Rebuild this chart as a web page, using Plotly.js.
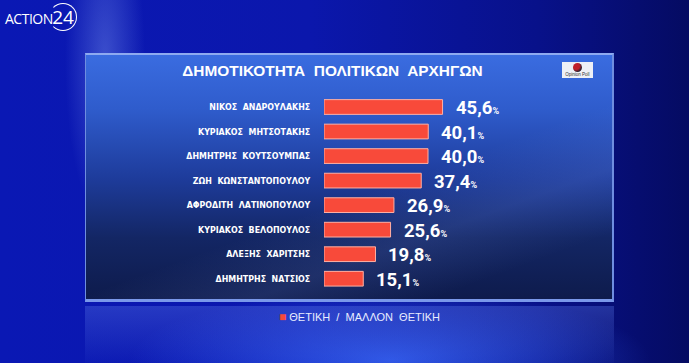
<!DOCTYPE html>
<html><head><meta charset="utf-8">
<script src="https://cdn.plot.ly/plotly-3.0.1.min.js"></script>
<style>
html,body{margin:0;padding:0;width:689px;height:363px;overflow:hidden;background:#0a15a0;}
#bg{position:absolute;left:0;top:0;width:689px;height:363px;
 background:
  radial-gradient(ellipse 260px 70px at 390px 360px, rgba(60,110,255,0.75), rgba(60,110,255,0) 100%),
  radial-gradient(ellipse 40px 160px at 105px 60px, rgba(150,180,255,0.35), rgba(150,180,255,0) 100%),
  linear-gradient(90deg,#0a18b4 0%,#0b17ac 45%,#08118a 78%,#050b62 100%);}
#panel{position:absolute;left:85px;top:53px;width:529px;height:249px;box-sizing:border-box;
 border-top:2px solid #8eaaf0;border-left:1px solid #6f8ee0;border-right:2px solid #6f8ee0;border-bottom:3px solid #7a98ea;
 background:
  linear-gradient(160deg, rgba(255,255,255,0) 55%, rgba(140,170,255,0.12) 70%, rgba(255,255,255,0) 85%),
  linear-gradient(180deg,#3a6ce0 0%,#2f5ccc 22%,#1e3c9c 50%,#132664 75%,#0e1b4c 100%);}
#refl{position:absolute;left:85px;top:306px;width:529px;height:57px;
 background:linear-gradient(180deg,rgba(90,120,230,0.35),rgba(60,90,220,0.05));}
#logo{position:absolute;left:5px;top:3px;color:#fff;font-family:'Open Sans',sans-serif;}
#logo .a{position:absolute;left:0;top:6px;font-size:14px;letter-spacing:-0.5px;}
#logo .n{position:absolute;left:44px;top:0;width:26px;height:26px;border:1.5px solid #fff;border-radius:50%;border-left-color:transparent;font-size:19px;line-height:26px;text-align:center;}
#op{position:absolute;left:562px;top:62px;width:31px;height:16px;background:#eef0f6;}
#op .c{position:absolute;left:11px;top:1px;width:9px;height:9px;border-radius:50%;background:radial-gradient(circle at 35% 35%,#c0202a 40%,#2a2030 70%);}
#op .t{position:absolute;left:0;top:10px;width:31px;text-align:center;font-family:'Liberation Sans',sans-serif;font-size:4.5px;color:#333;}
#chart{position:absolute;left:0;top:0;width:689px;height:363px;}
</style></head>
<body>
<div id="bg"></div>
<div id="panel"></div>
<div id="refl"></div>
<div id="logo"><span class="a">ACTION</span><span class="n">24</span></div>
<div id="op"><div class="c"></div><div class="t">Opinion Poll</div></div>
<div id="chart"></div>
<script>
const titleText = 'ΔΗΜΟΤΙΚΟΤΗΤΑ  ΠΟΛΙΤΙΚΩΝ  ΑΡΧΗΓΩΝ';
const seriesName = 'ΘΕΤΙΚΗ  /  ΜΑΛΛΟΝ  ΘΕΤΙΚΗ';
const leaders = [
  'ΝΙΚΟΣ  ΑΝΔΡΟΥΛΑΚΗΣ',
  'ΚΥΡΙΑΚΟΣ  ΜΗΤΣΟΤΑΚΗΣ',
  'ΔΗΜΗΤΡΗΣ  ΚΟΥΤΣΟΥΜΠΑΣ',
  'ΖΩΗ  ΚΩΝΣΤΑΝΤΟΠΟΥΛΟΥ',
  'ΑΦΡΟΔΙΤΗ  ΛΑΤΙΝΟΠΟΥΛΟΥ',
  'ΚΥΡΙΑΚΟΣ  ΒΕΛΟΠΟΥΛΟΣ',
  'ΑΛΕΞΗΣ  ΧΑΡΙΤΣΗΣ',
  'ΔΗΜΗΤΡΗΣ  ΝΑΤΣΙΟΣ'
];
const positive = [45.6, 40.1, 40.0, 37.4, 26.9, 25.6, 19.8, 15.1];

const fmt = v => v.toFixed(1).replace('.', ',');
const barColor = '#f84a3a';

const trace = {
  type: 'bar', orientation: 'h',
  x: positive, y: leaders, name: seriesName,
  width: 0.6,
  marker: {color: barColor, line: {color: '#ffb0a4', width: 1}},
  hoverinfo: 'none', showlegend: false
};

const annotations = positive.map((v, i) => ({
  x: v, y: leaders[i], xref: 'x', yref: 'y',
  xanchor: 'left', yanchor: 'middle', xshift: 11, yshift: -1,
  showarrow: false,
  text: '<b>' + fmt(v) + '<span style="font-size:9px">%</span></b>',
  font: {family: 'Roboto', size: 18.5, color: '#ffffff'}
}));
annotations.push({
  xref: 'paper', yref: 'paper', x: (277 - 324) / 260, y: -(316.5 - 291) / 198,
  xanchor: 'left', yanchor: 'middle', showarrow: false,
  text: '<span style="color:' + barColor + ';font-size:12px">■</span> ' + seriesName,
  font: {family: 'Liberation Sans', size: 11, color: '#e8ecff'}
});

const layout = {
  width: 689, height: 363,
  margin: {l: 324, r: 105, t: 93, b: 72, pad: 0},
  paper_bgcolor: 'rgba(0,0,0,0)', plot_bgcolor: 'rgba(0,0,0,0)',
  title: {
    text: titleText, x: 0.4826, xanchor: 'center', xref: 'container',
    y: 1 - 70.5 / 363, yanchor: 'middle', yref: 'container',
    font: {family: 'Liberation Sans', size: 15.4, color: '#ffffff', weight: 'bold'}
  },
  xaxis: {range: [0, 100], visible: false, fixedrange: true},
  yaxis: {
    type: 'category', autorange: 'reversed', showgrid: false, zeroline: false, showline: false,
    ticks: 'outside', ticklen: 11, tickcolor: 'rgba(0,0,0,0)', fixedrange: true,
    tickfont: {family: 'DejaVu Sans Condensed, Liberation Sans', size: 8.8, color: '#ffffff', weight: 'bold'}
  },
  showlegend: false,
  annotations: annotations
};

Plotly.newPlot('chart', [trace], layout, {displayModeBar: false, staticPlot: true});
</script>
</body></html>
